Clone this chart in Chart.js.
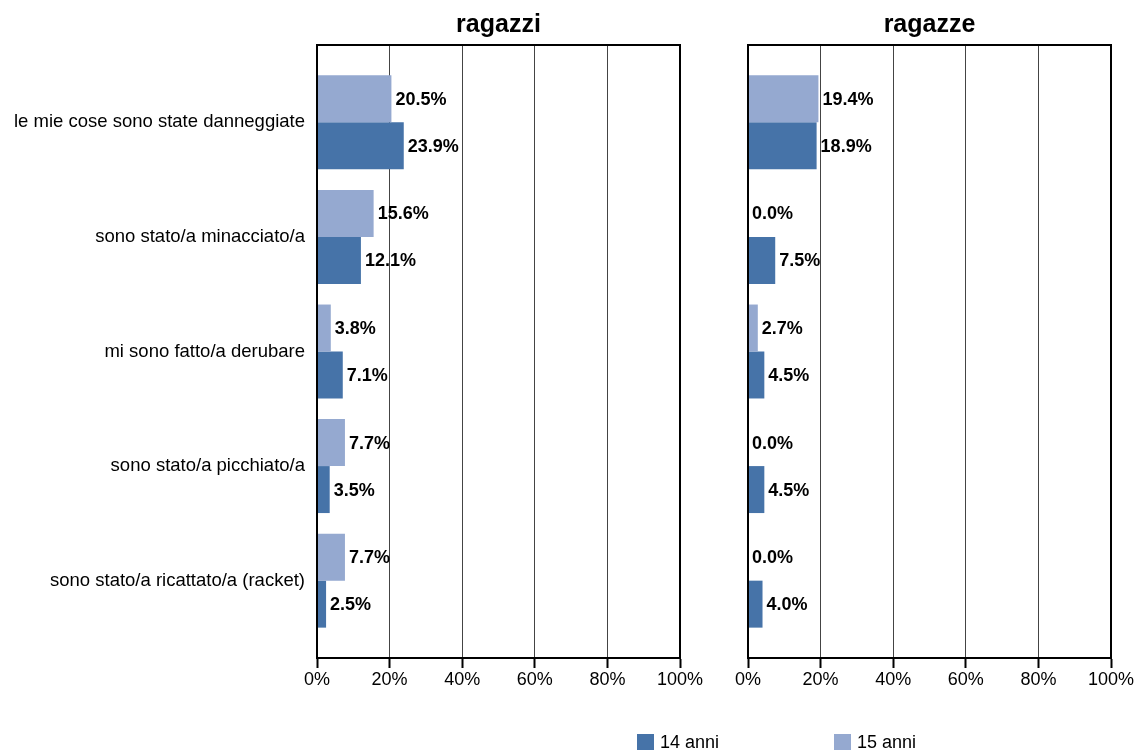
<!DOCTYPE html>
<html>
<head>
<meta charset="utf-8">
<script src="https://cdn.jsdelivr.net/npm/chart.js@4.4.0/dist/chart.umd.min.js"></script>
<style>
  body { margin: 0; background: #fff; font-family: "Liberation Sans", Arial, sans-serif; }
  #wrap { position: relative; width: 1136px; height: 752px; }
  .box { position: absolute; top: 0; height: 752px; }
  .legend { position: absolute; top: 733px; font-size: 18px; line-height: 18px; color: #000; display: flex; align-items: center; }
  .legend span.sw { display: inline-block; width: 17px; height: 16px; margin-right: 6px; }
</style>
</head>
<body>
<div id="wrap">
  <div class="box" style="left:0; width:708px;"><canvas id="leftChart" width="708" height="752"></canvas></div>
  <div class="box" style="left:720px; width:416px;"><canvas id="rightChart" width="416" height="752"></canvas></div>
  <div class="legend" style="left:637px;"><span class="sw" style="background:#4673a8"></span>14 anni</div>
  <div class="legend" style="left:834px;"><span class="sw" style="background:#95a9d0"></span>15 anni</div>
</div>
<script>
const categories = [
    'le mie cose sono state danneggiate',
    'sono stato/a minacciato/a',
    'mi sono fatto/a derubare',
    'sono stato/a picchiato/a',
    'sono stato/a ricattato/a (racket)'
];
const ragazzi14 = [23.9, 12.1, 7.1, 3.5, 2.5];
const ragazzi15 = [20.5, 15.6, 3.8, 7.7, 7.7];
const ragazze14 = [18.9, 7.5, 4.5, 4.5, 4.0];
const ragazze15 = [19.4, 0.0, 2.7, 0.0, 0.0];
const xTicks = [0, 20, 40, 60, 80, 100];

const dark = '#4673a8';
const light = '#95a9d0';
const FONT = '"Liberation Sans", Arial, sans-serif';

// value labels right of each bar
const valueLabels = {
    id: 'valueLabels',
    afterDatasetsDraw(chart) {
        const ctx = chart.ctx;
        ctx.save();
        ctx.font = 'bold 18px ' + FONT;
        ctx.fillStyle = '#000';
        ctx.textAlign = 'left';
        ctx.textBaseline = 'middle';
        chart.data.datasets.forEach((ds, i) => {
            chart.getDatasetMeta(i).data.forEach((bar, j) => {
                ctx.fillText(ds.data[j].x.toFixed(1) + '%', bar.x + 4, bar.y + 1);
            });
        });
        ctx.restore();
    }
};

// box around the plot + title
const frame = {
    id: 'frame',
    afterDatasetsDraw(chart, args, opts) {
        const a = chart.chartArea;
        const ctx = chart.ctx;
        ctx.save();
        ctx.strokeStyle = '#000';
        ctx.lineWidth = 2;
        ctx.strokeRect(a.left, a.top, a.right - a.left, a.bottom - a.top);
        ctx.font = 'bold 25px ' + FONT;
        ctx.fillStyle = '#000';
        ctx.textAlign = 'center';
        ctx.textBaseline = 'alphabetic';
        ctx.fillText(opts.text, (a.left + a.right) / 2, 32);
        ctx.restore();
    }
};

function makeChart(id, title, d14, d15, yWidth, padRight, showLabels) {
    return new Chart(document.getElementById(id), {
        type: 'bar',
        data: {
            datasets: [{
                label: '15 anni',
                data: d15.map((v, i) => ({ x: v, y: i })),
                backgroundColor: light
            }, {
                label: '14 anni',
                data: d14.map((v, i) => ({ x: v, y: i })),
                backgroundColor: dark
            }]
        },
        options: {
            indexAxis: 'y',
            responsive: false,
            animation: false,
            categoryPercentage: 0.82,
            barPercentage: 1,
            layout: { padding: { top: 45, right: padRight, bottom: 0, left: 0 } },
            plugins: {
                legend: { display: false },
                tooltip: { enabled: false },
                frame: { text: title }
            },
            scales: {
                x: {
                    type: 'linear',
                    min: 0,
                    max: 100,
                    afterBuildTicks: s => { s.ticks = xTicks.map(v => ({ value: v })); },
                    afterFit: s => { s.height = 94; },
                    grid: {
                        color: ctx => (ctx.tick && (ctx.tick.value === 0 || ctx.tick.value === 100)) ? '#000' : '#444',
                        lineWidth: 1,
                        drawTicks: true,
                        tickLength: 10,
                        tickWidth: 2,
                        tickColor: '#000'
                    },
                    border: { display: true, color: '#000', width: 2 },
                    ticks: {
                        color: '#000',
                        font: { family: FONT, size: 18 },
                        padding: 1,
                        maxRotation: 0,
                        callback: v => v + '%'
                    }
                },
                y: {
                    type: 'linear',
                    reverse: true,
                    offset: false,
                    min: -0.675,
                    max: 4.675,
                    afterBuildTicks: s => { s.ticks = categories.map((c, i) => ({ value: i })); },
                    afterFit: s => { s.width = yWidth; },
                    grid: { display: false, drawTicks: false },
                    border: { display: true, color: '#000', width: 2 },
                    ticks: {
                        display: showLabels,
                        color: '#000',
                        font: { family: FONT, size: 18.5 },
                        padding: 12,
                        callback: v => categories[v]
                    }
                }
            }
        },
        plugins: [frame, valueLabels]
    });
}

makeChart('leftChart', 'ragazzi', ragazzi14, ragazzi15, 317, 28, true);
makeChart('rightChart', 'ragazze', ragazze14, ragazze15, 28, 25, false);
</script>
</body>
</html>
